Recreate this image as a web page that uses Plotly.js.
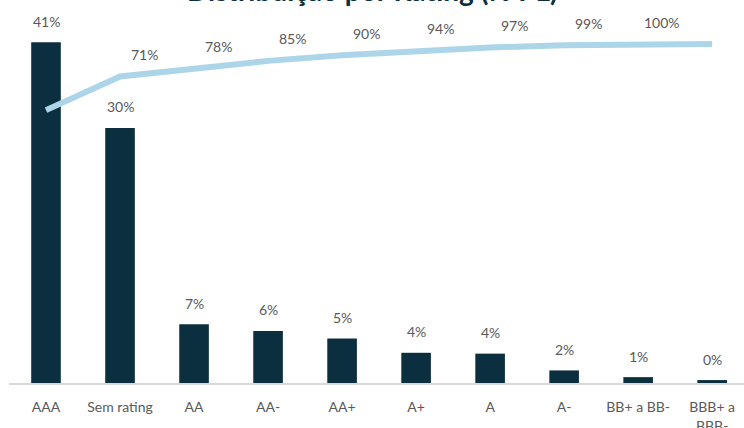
<!DOCTYPE html>
<html>
<head>
<meta charset="utf-8">
<script src="https://cdn.plot.ly/plotly-3.0.1.min.js"></script>
<style>html,body{margin:0;padding:0;background:#fff;}#chart{width:744px;height:428px;}</style>
</head>
<body>
<div id="chart"></div>
<script>
const categories = ["AAA", "Sem rating", "AA", "AA-", "AA+", "A+", "A", "A-", "BB+ a BB-", "BBB+ a<br>BBB-"];
const shareValues = [40.6, 30.4, 7.0, 6.2, 5.3, 3.6, 3.5, 1.5, 0.7, 0.35];
const cumulativeValues = [41, 71, 78, 85, 90, 94, 97, 99, 100, 100];
const cumulativeLabelShown = [false, true, true, true, true, true, true, true, true, false];
const titleText = "Distribuição por Rating (% PL)";

const barColor = "#0c2f40";
const lineColor = "#acd5ea";
const labelColor = "#595959";
const labelFont = {family: "Lato, 'Open Sans', sans-serif", size: 14, color: labelColor};

const traces = [
  {
    type: "bar",
    x: categories,
    y: shareValues,
    marker: {color: barColor, line: {width: 0}},
    width: 0.4,
    hoverinfo: "skip",
    showlegend: false
  },
  {
    type: "scatter",
    mode: "lines",
    x: categories,
    y: cumulativeValues,
    yaxis: "y2",
    line: {color: lineColor, width: 6},
    hoverinfo: "skip",
    showlegend: false
  }
];

const annotations = [];
categories.forEach((c, i) => {
  annotations.push({
    x: c, y: shareValues[i], xref: "x", yref: "y",
    text: Math.round(shareValues[i]) + "%",
    showarrow: false, yanchor: "middle", xanchor: "center",
    yshift: 21, font: labelFont
  });
  if (cumulativeLabelShown[i]) {
    annotations.push({
      x: c, y: cumulativeValues[i], xref: "x", yref: "y2",
      text: Math.round(cumulativeValues[i]) + "%",
      showarrow: false, yanchor: "middle", xanchor: "center",
      xshift: 24, yshift: 22, font: labelFont
    });
  }
});
annotations.push({
  x: 0.494, y: 1, xref: "paper", yref: "paper",
  text: "<b>" + titleText + "</b>",
  showarrow: false, xanchor: "center", yanchor: "bottom", yshift: 21,
  font: {family: "Lato, 'Open Sans', sans-serif", size: 28, color: barColor}
});

const layout = {
  width: 744, height: 428,
  margin: {l: 9, r: 0, t: 30, b: 45, pad: 0},
  paper_bgcolor: "#ffffff",
  plot_bgcolor: "#ffffff",
  xaxis: {
    type: "category",
    range: [-0.5, 9.43],
    showgrid: false, zeroline: false,
    showline: true, linecolor: "#d9d9d9", linewidth: 1.5,
    ticks: "", ticklabelstandoff: 11,
    tickfont: labelFont,
    fixedrange: true
  },
  yaxis: {
    range: [0, 42.07],
    showgrid: false, zeroline: false, showline: false,
    showticklabels: false, ticks: "", fixedrange: true
  },
  yaxis2: {
    range: [-202.9, 112.6],
    overlaying: "y", side: "right",
    showgrid: false, zeroline: false, showline: false,
    showticklabels: false, ticks: "", fixedrange: true
  },
  annotations: annotations,
  showlegend: false
};

Plotly.newPlot("chart", traces, layout, {displayModeBar: false, staticPlot: true});
</script>
</body>
</html>
